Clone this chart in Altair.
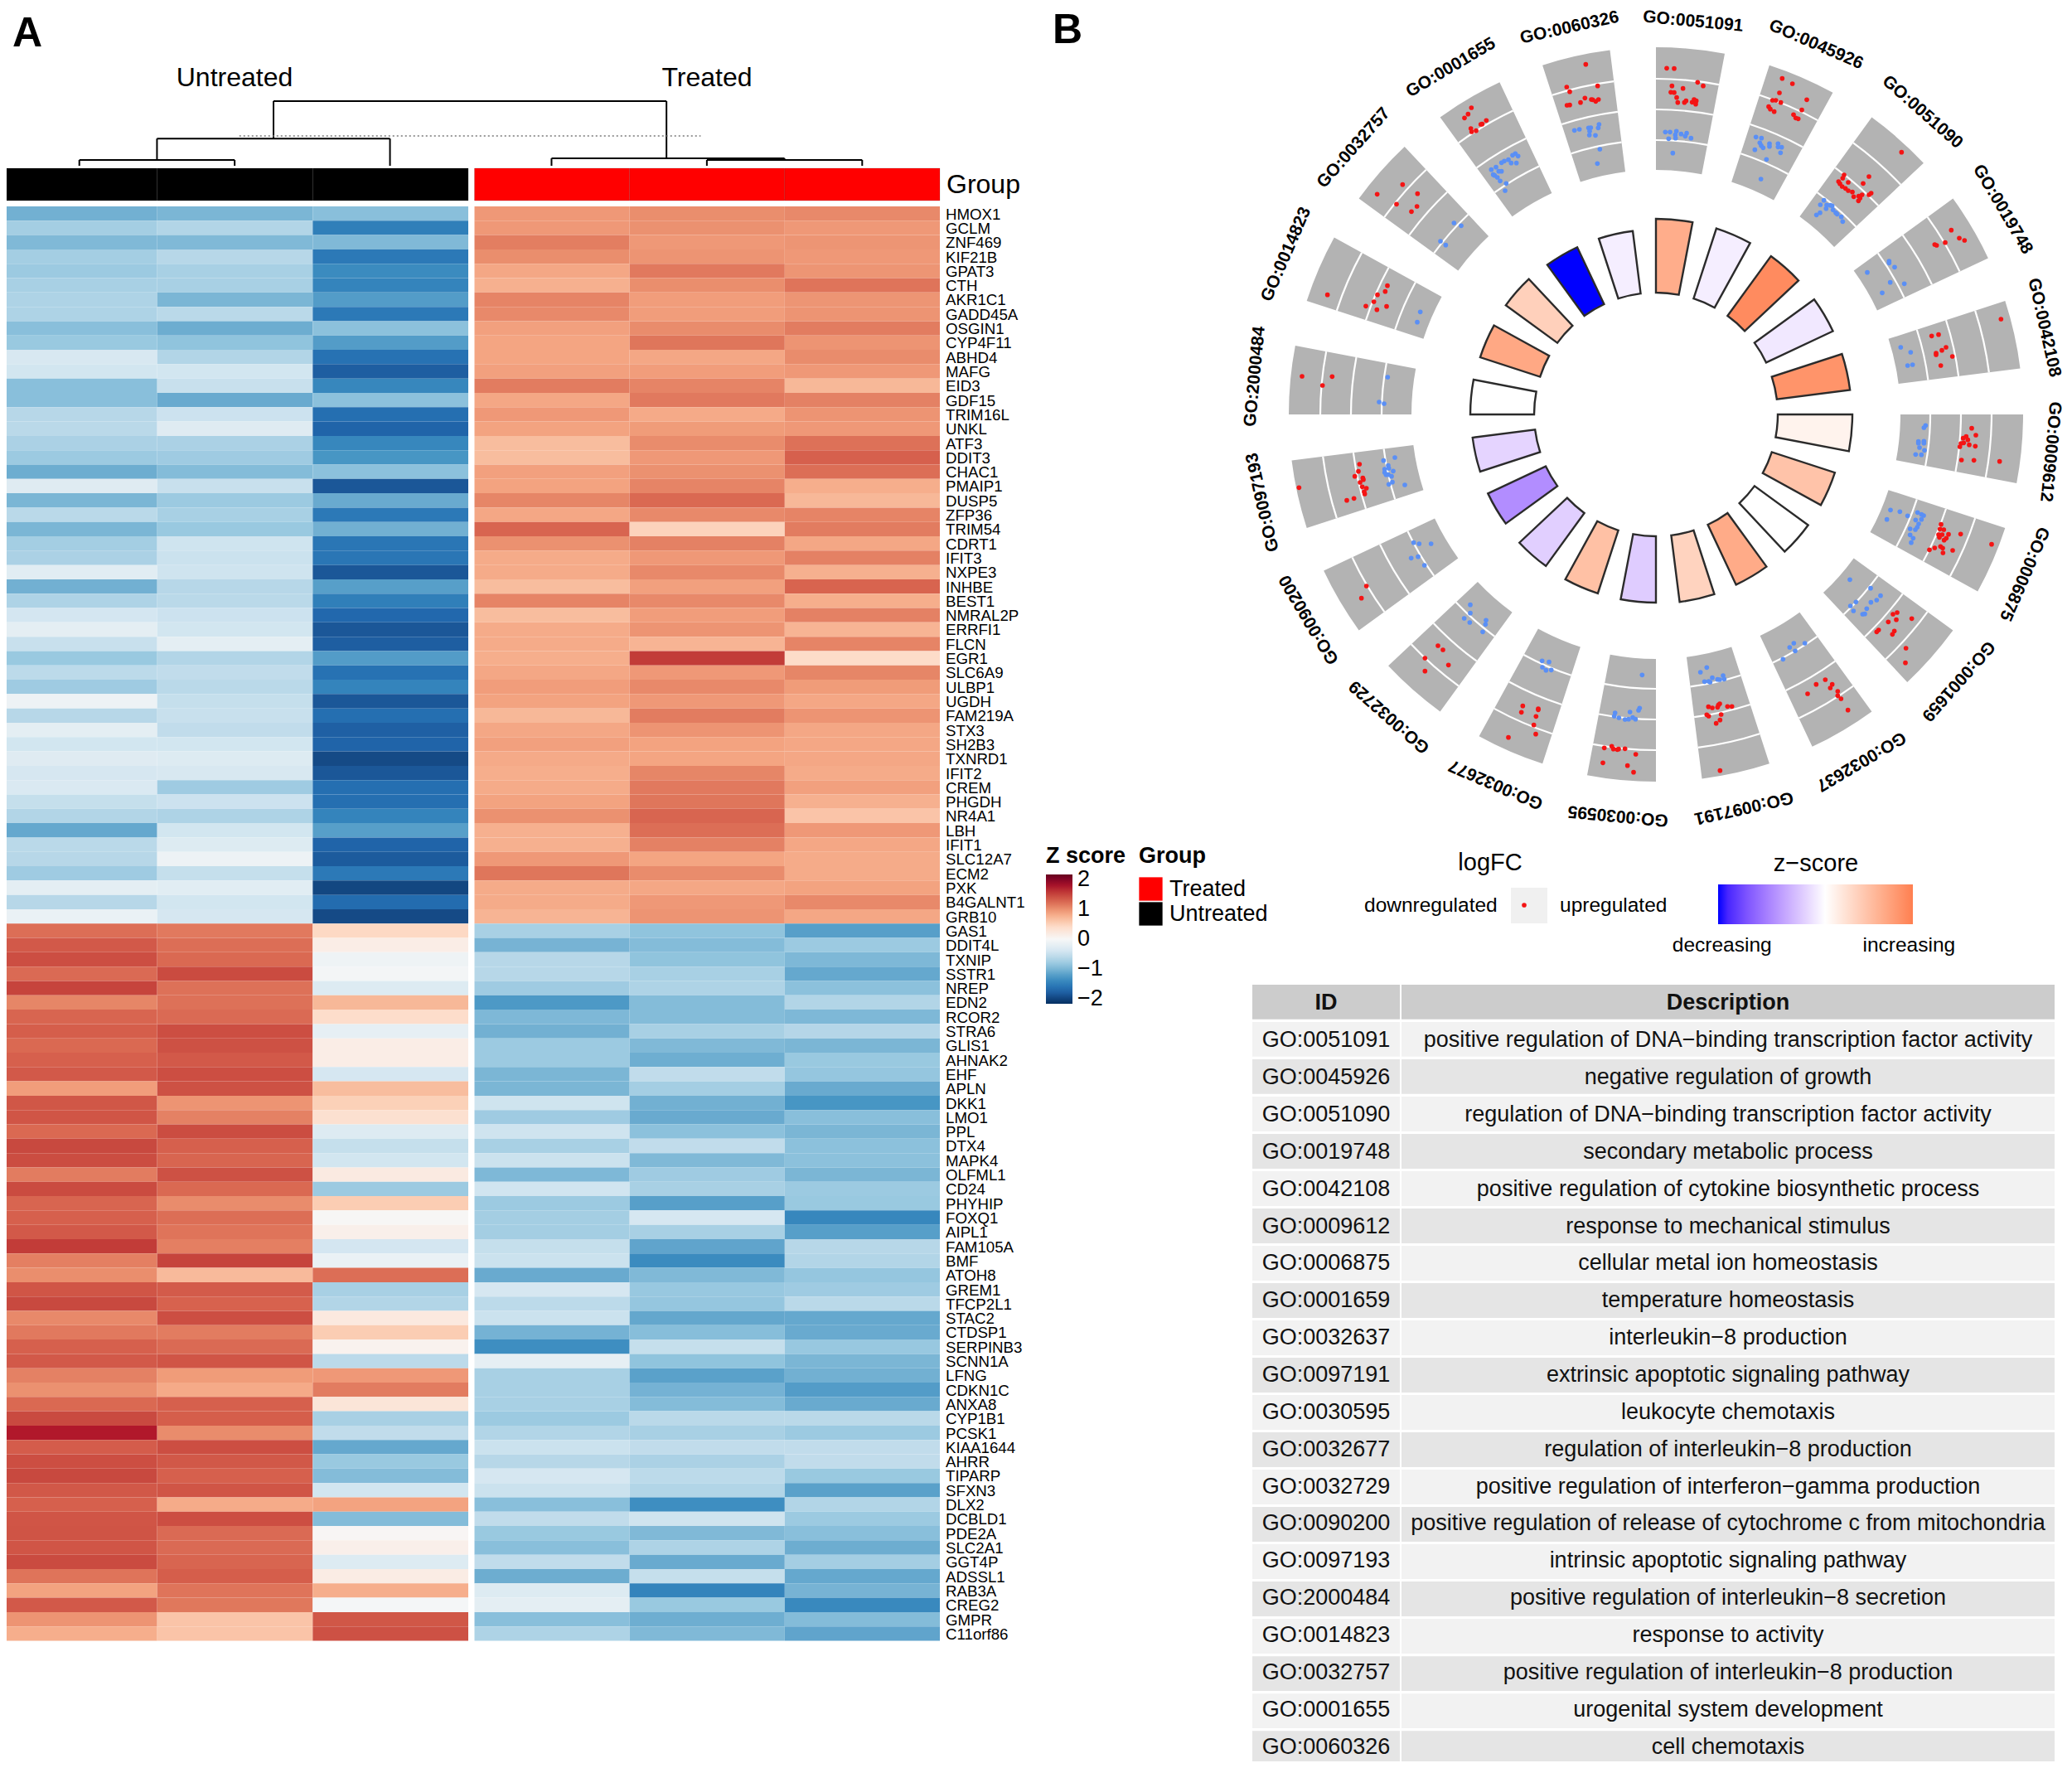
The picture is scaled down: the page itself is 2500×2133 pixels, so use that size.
import altair as alt
import pandas as pd

FONT = "Liberation Sans"

# ---------- heatmap data ----------
genes = """HMOX1 GCLM ZNF469 KIF21B GPAT3 CTH AKR1C1 GADD45A OSGIN1 CYP4F11 ABHD4 MAFG EID3 GDF15 TRIM16L UNKL ATF3 DDIT3 CHAC1 PMAIP1 DUSP5 ZFP36 TRIM54 CDRT1 IFIT3 NXPE3 INHBE BEST1 NMRAL2P ERRFI1 FLCN EGR1 SLC6A9 ULBP1 UGDH FAM219A STX3 SH2B3 TXNRD1 IFIT2 CREM PHGDH NR4A1 LBH IFIT1 SLC12A7 ECM2 PXK B4GALNT1 GRB10 GAS1 DDIT4L TXNIP SSTR1 NREP EDN2 RCOR2 STRA6 GLIS1 AHNAK2 EHF APLN DKK1 LMO1 PPL DTX4 MAPK4 OLFML1 CD24 PHYHIP FOXQ1 AIPL1 FAM105A BMF ATOH8 GREM1 TFCP2L1 STAC2 CTDSP1 SERPINB3 SCNN1A LFNG CDKN1C ANXA8 CYP1B1 PCSK1 KIAA1644 AHRR TIPARP SFXN3 DLX2 DCBLD1 PDE2A SLC2A1 GGT4P ADSSL1 RAB3A CREG2 GMPR C11orf86""".split()
samples_untreated = ["U1", "U2", "U3"]
samples_treated = ["T1", "T2", "T3"]
z_rows = [
[-1.05,-1.0,-0.92,0.95,1.02,1.05],[-0.75,-0.65,-1.5,0.95,1.0,0.95],[-0.97,-0.97,-0.97,1.12,0.95,0.97],
[-0.75,-0.62,-1.55,1.02,0.98,0.95],[-0.8,-0.72,-1.38,0.85,1.15,0.97],[-0.72,-0.72,-1.45,0.78,1.02,1.18],
[-0.68,-1.0,-1.22,1.08,0.92,0.97],[-0.68,-0.6,-1.55,1.05,0.92,0.98],[-0.92,-1.08,-0.9,0.9,1.03,1.13],
[-0.82,-0.88,-1.22,0.87,1.17,0.98],[-0.35,-0.65,-1.62,0.87,0.85,1.03],[-0.42,-0.42,-1.8,0.9,0.92,0.95],
[-0.92,-0.5,-1.42,1.13,1.08,0.72],[-0.92,-1.1,-0.9,0.85,1.15,1.1],[-0.62,-0.47,-1.65,0.95,0.83,0.98],
[-0.6,-0.28,-1.75,0.88,0.93,0.95],[-0.7,-0.7,-1.42,0.68,1.03,1.2],[-0.8,-0.78,-1.28,0.68,0.95,1.3],
[-1.08,-0.95,-0.9,0.9,1.0,1.22],[-0.28,-0.5,-1.85,0.88,1.08,0.8],[-1.0,-0.8,-1.1,1.07,1.25,0.72],
[-0.6,-0.72,-1.55,0.85,1.05,1.08],[-1.0,-0.82,-1.05,1.27,0.5,1.13],[-0.75,-0.45,-1.58,1.0,1.1,0.85],
[-0.7,-0.48,-1.58,0.82,0.95,1.1],[-0.25,-0.45,-1.85,0.82,1.05,0.78],[-1.05,-0.62,-1.2,0.68,0.9,1.28],
[-0.68,-0.6,-1.5,1.08,1.05,0.8],[-0.4,-0.47,-1.72,0.68,0.92,1.1],[-0.22,-0.42,-1.85,0.82,0.98,0.75],
[-0.5,-0.22,-1.8,0.82,0.75,1.08],[-0.82,-0.65,-1.22,0.8,1.55,0.42],[-0.58,-0.55,-1.62,0.85,0.95,1.07],
[-0.78,-0.6,-1.45,0.92,1.05,0.93],[-0.12,-0.52,-1.85,0.88,0.95,0.85],[-0.62,-0.5,-1.65,0.72,1.13,0.98],
[-0.22,-0.55,-1.78,0.85,0.98,0.85],[-0.42,-0.42,-1.75,0.9,0.88,0.85],[-0.28,-0.3,-1.95,0.83,0.87,0.85],
[-0.38,-0.35,-1.85,0.8,1.07,0.82],[-0.33,-0.78,-1.65,0.82,1.15,0.9],[-0.52,-0.47,-1.65,0.88,1.17,0.78],
[-0.65,-0.68,-1.45,1.0,1.27,0.62],[-1.12,-0.42,-1.2,0.78,1.22,0.95],[-0.6,-0.3,-1.75,0.78,1.1,0.85],
[-0.62,-0.12,-1.82,0.95,0.87,0.82],[-0.78,-0.52,-1.55,1.17,1.03,0.82],[-0.22,-0.25,-1.98,0.82,0.85,0.88],
[-0.62,-0.42,-1.68,0.82,0.95,1.05],[-0.15,-0.38,-1.95,0.75,0.98,0.85],
[1.22,1.15,0.45,-0.72,-0.88,-1.2],[1.35,1.22,0.15,-1.02,-0.95,-0.8],[1.43,1.25,-0.1,-0.62,-0.88,-0.98],
[1.24,1.45,-0.05,-0.62,-0.72,-1.12],[1.5,1.2,-0.3,-0.78,-0.68,-0.9],[1.07,1.2,0.72,-1.25,-0.95,-0.65],
[1.27,1.24,0.4,-0.98,-0.95,-0.98],[1.32,1.43,-0.2,-1.05,-0.72,-0.63],[1.25,1.41,0.15,-0.8,-0.97,-1.0],
[1.3,1.35,0.15,-0.8,-1.07,-0.82],[1.35,1.43,-0.38,-1.0,-0.55,-0.85],[0.92,1.41,0.68,-1.0,-0.75,-1.1],
[1.37,0.98,0.52,-0.45,-1.05,-1.28],[1.38,1.1,0.35,-0.78,-1.1,-0.92],[1.25,1.44,-0.3,-0.45,-0.9,-1.0],
[1.47,1.3,-0.52,-0.72,-0.55,-0.9],[1.44,1.27,-0.42,-0.48,-0.97,-0.9],[1.13,1.41,0.2,-0.98,-0.78,-1.0],
[1.45,1.25,-0.8,-0.43,-0.72,-0.8],[1.27,1.03,0.55,-0.8,-1.2,-0.82],[1.3,1.22,0.02,-0.75,-0.38,-1.42],
[1.35,1.18,0.12,-0.75,-0.72,-1.2],[1.55,1.11,-0.4,-0.52,-1.15,-0.62],[1.11,1.5,-0.15,-0.48,-1.38,-0.65],
[1.02,0.7,1.22,-1.1,-0.97,-0.85],[1.38,1.34,-0.72,-0.38,-0.83,-0.78],[1.47,1.29,-0.65,-0.58,-0.85,-0.6],
[1.05,1.43,0.22,-0.48,-1.13,-1.12],[1.15,1.13,0.55,-1.03,-0.93,-1.1],[1.3,1.24,0.08,-1.35,-0.52,-0.83],
[1.35,1.38,-0.58,-0.2,-0.88,-1.0],[1.1,0.93,0.95,-0.72,-1.18,-1.05],[1.0,0.83,1.13,-0.72,-1.03,-1.22],
[1.25,1.3,0.28,-0.72,-0.95,-1.1],[1.46,1.32,-0.72,-0.8,-0.6,-0.6],[1.74,1.03,-0.55,-0.65,-0.72,-0.8],
[1.33,1.43,-1.12,-0.48,-0.55,-0.55],[1.43,1.36,-0.82,-0.62,-0.7,-0.55],[1.47,1.3,-0.95,-0.38,-0.58,-0.82],
[1.36,1.38,-0.42,-0.48,-0.65,-1.18],[1.3,0.82,0.88,-0.92,-1.35,-0.65],[1.38,1.43,-0.95,-0.55,-0.45,-0.8],
[1.39,1.24,0.03,-0.82,-0.97,-0.92],[1.38,1.24,0.12,-0.92,-0.68,-1.08],[1.45,1.27,-0.3,-0.55,-1.1,-0.75],
[1.18,1.32,0.17,-1.08,-0.52,-1.12],[0.88,1.18,0.8,-0.3,-1.45,-1.02],[1.35,1.16,-0.03,-0.22,-0.82,-1.4],
[0.98,0.62,1.37,-0.92,-1.07,-0.95],[0.8,0.62,1.41,-0.68,-0.97,-1.15],
]
z_domain = [-2.17, -1.736, -1.302, -0.868, -0.434, 0, 0.434, 0.868, 1.302, 1.736, 2.17]
z_colors = ["#053061","#2166ac","#4393c3","#92c5de","#d1e5f0","#f7f7f7","#fddbc7","#f4a582","#d6604d","#b2182b","#67001f"]
z_ticks = [2, 1, 0, -1, -2]
groups = ["Treated", "Untreated"]
group_colors = ["#ff0000", "#000000"]

# dendrogram: column position / merge height
dend_x  = [0.5,0.5,1.5,1.0,1.0,2.5,1.75,1.75,4.28,3.54,3.54,5.04,4.54,4.54,5.54]
dend_x2 = [1.5,0.5,1.5,1.0,2.5,2.5,1.75,4.28,4.28,5.04,3.54,5.04,5.54,4.54,5.54]
dend_h  = [.09,.09,.09,.09,.42,.42,.42,1,1,.115,.115,.09,.09,.09,.09]
dend_h2 = [.09,0,0,.42,.42,0,1,1,.115,.115,0,.115,.09,0,0]
cut_h = [0.46]

# ---------- GO circle data ----------
go_ids = ["GO:0051091","GO:0045926","GO:0051090","GO:0019748","GO:0042108","GO:0009612","GO:0006875","GO:0001659","GO:0032637","GO:0097191",
          "GO:0030595","GO:0032677","GO:0032729","GO:0090200","GO:0097193","GO:2000484","GO:0014823","GO:0032757","GO:0001655","GO:0060326"]
go_desc = ["positive regulation of DNA−binding transcription factor activity","negative regulation of growth",
 "regulation of DNA−binding transcription factor activity","secondary metabolic process",
 "positive regulation of cytokine biosynthetic process","response to mechanical stimulus","cellular metal ion homeostasis",
 "temperature homeostasis","interleukin−8 production","extrinsic apoptotic signaling pathway","leukocyte chemotaxis",
 "regulation of interleukin−8 production","positive regulation of interferon−gamma production",
 "positive regulation of release of cytochrome c from mitochondria","intrinsic apoptotic signaling pathway",
 "positive regulation of interleukin−8 secretion","response to activity","positive regulation of interleukin−8 production",
 "urogenital system development","cell chemotaxis"]
go_z = [1.46,-0.19,2.05,-0.26,1.9,0.22,1.07,0,1.5,0.79,-0.59,1.12,-0.55,-1.33,-0.49,0,1.55,0.84,-2.75,-0.19]
go_height = [236,236,236,236,236,237,227,227,227,228,227,227,226,224,223,224,223,224,223,223]
logfc_rings = [331, 368, 405]

nw_up = [(1240,233),(1171,315),(1182,332),(1283,311),(1237,355),(1221,371),(1172,381),(1182,380),(1260,360),(1265,361),(1276,367),(1286,360),
 (826,390),(814,413),(801,427),(880,436),(865,449),(860,450),(824,465),(827,477),(843,473),
 (485,703),(577,668),(631,701),(555,739),(629,747),(609,766),
 (305,1067),(522,1034),(514,1055),(486,1067),(473,1092),(444,1108),(484,1121),(519,1109),
 (213,1362),(322,1363),(287,1395)]
nw_down = [(1199,472),(1217,468),(1250,463),(1258,462),(1254,475),(1253,489),(1275,490),(1288,450),(1285,463),(1291,540),(1282,592),
 (985,556),(975,562),(995,565),(960,578),(945,583),(935,589),(970,590),(989,590),(915,605),(898,614),(925,620),(935,620),(910,635),(920,642),(930,655),(952,664),(948,690),(905,632),
 (763,807),(789,817),(714,873),(733,887),
 (641,1129),(630,1166),
 (523,1365),(492,1455),(510,1461)]
ne_up = [(33,127),(60,128),(145,178),(165,191),(52,191),(92,200),(48,214),(60,215),(69,233),(73,251),(97,251),(103,245),(125,250),(132,240),(140,245),(138,257),
 (451,164),(488,183),(441,216),(540,241),(416,243),(428,243),(446,251),(402,266),(408,275),(422,284),(522,278),(492,295),(500,307),(509,310),
 (883,431),(765,519),(675,513),(670,525),(744,544),(690,540),(655,537),(660,545),(668,555),(680,562),(690,570),(705,575),(710,592),(740,585),(728,590),(733,597),(727,607),(765,585),(773,579),
 (1063,713),(1092,742),(1111,750),(1041,758),(1003,765),(1010,768),
 (1243,1035),(992,1096),(1017,1091),(1044,1137),(1029,1148),(1008,1158),(1008,1164),(1067,1170),(1025,1203)]
ne_down = [(28,358),(45,358),(68,355),(64,368),(85,365),(105,362),(100,373),(121,380),(40,382),(65,380),(55,434),
 (356,376),(376,380),(370,397),(375,407),(382,415),(405,400),(405,410),(436,400),(449,413),(436,412),(352,422),(445,433),(394,457),(374,528),
 (602,605),(589,621),(612,622),(625,623),(632,625),(610,635),(635,640),(645,650),(650,655),(588,650),(575,658),(665,665),(670,682),
 (838,825),(838,832),(858,847),(759,866),(842,902),(893,907),(813,940),
 (880,1137),(916,1155),(905,1203),(923,1200)]
se_up = [(1137,80),(1152,105),(1117,110),(1106,116),(1123,122),(1108,133),(1098,135),(1128,140),(1150,145),(1094,147),(1100,195),(1145,196),(1238,200),
 (1026,428),(1022,445),(1036,447),(1017,465),(1030,465),(1053,464),(1097,463),(1020,475),(1045,478),(1037,485),(1209,500),(1024,508),(1032,514),(984,520),(1003,513),(1068,522),(1033,531),
 (852,753),(867,747),(920,769),(864,773),(835,781),(800,810),(793,817),(857,814),(850,826),(899,876),(897,929),
 (607,990),(574,1007),(632,1007),(625,1020),(543,1041),(652,1032),(652,1048),(664,1059),(689,1100),
 (225,1077),(220,1082),(217,1090),(184,1088),(198,1092),(253,1087),(269,1087),(178,1117),(185,1122),(230,1116),(226,1136),(212,1148),(226,1319)]
se_down = [(970,70),(964,78),(944,128),(944,134),(964,127),(964,134),(948,150),(966,160),(934,175),(955,176),
 (843,376),(877,382),(905,397),(941,385),(955,392),(963,396),(955,410),(934,412),(830,410),(945,426),(940,438),(933,447),(914,444),(914,466),(925,478),(918,494),
 (696,628),(771,659),(807,686),(793,702),(772,710),(718,709),(698,723),(757,733),(709,741),(742,753),(750,752),
 (493,858),(533,858),(478,873),(498,886),(454,916),
 (178,946),(155,963),(198,983),(237,975),(217,989),(225,990),(241,988),(170,997),(185,996),(190,999)]
sw_up = [(1187,1237),(1214,1231),(1220,1241),(1234,1243),(1239,1241),(1262,1240),(1301,1260),(1182,1291),(1271,1301),(1293,1325),
 (892,1085),(948,1095),(948,1099),(887,1108),(940,1123),(932,1154),(939,1187),(840,1199),
 (585,867),(603,882),(538,912),(623,937),(538,959),
 (326,651),(308,695),
 (301,210),(297,236),(284,254),(313,260),(315,266),(303,276),(311,292),(326,297),(318,310),(320,318),(281,334),(255,341),(82,295)]
sw_down = [(1324,973),(1315,1093),(1311,1101),(1280,1107),(1226,1110),(1223,1122),(1240,1128),(1262,1134),(1275,1133),(1290,1127),(1300,1133),
 (962,922),(987,926),(963,945),(976,956),(995,955),
 (702,719),(702,749),(680,768),(700,783),(759,775),(757,790),(747,817),
 (497,494),(517,498),(560,498),(488,550),(513,545),(536,576),
 (429,186),(388,197),(405,215),(392,228),(407,225),(423,235),(392,240),(397,248),(405,248),(417,254),(420,275),(407,283),(465,285)]

# ---------- layout (page pixels) ----------
def P(v):
    return v - 8
CX, CY, R_OUT = 1998, 500, 443
SEG_STEP, SEG_SWEEP = 18, 10.8
LAB_R = {"GO:0051091": 476, "GO:0060326": 478, "GO:0009612": 478, "GO:0042108": 480, "GO:0006875": 484}

def label(text, x, y, size, weight="normal", align="left", color="#000000", angle=0):
    return alt.Chart(pd.DataFrame({"t": [text]})).mark_text(
        font=FONT, fontSize=size, fontWeight=weight, align=align, baseline="middle", color=color, angle=angle
    ).encode(text="t:N", x=alt.value(P(x)), y=alt.value(P(y)))

layers = []

# ---------- heatmap ----------
hm = pd.DataFrame([{"gene": g, "sample": s, "z": z_rows[i][j]}
                   for i, g in enumerate(genes) for j, s in enumerate(samples_untreated + samples_treated)])
y_genes = alt.Y("gene:N", sort=genes, axis=None,
                scale=alt.Scale(domain=genes, range=[P(249), P(1979.5)], paddingInner=0, paddingOuter=0))
z_scale = alt.Scale(type="linear", domain=z_domain, range=z_colors)

def heat(samples, x0, x1, legend):
    return alt.Chart(hm[hm["sample"].isin(samples)]).mark_rect().encode(
        x=alt.X("sample:N", axis=None, sort=samples,
                scale=alt.Scale(domain=samples, range=[P(x0), P(x1)], paddingInner=0, paddingOuter=0)),
        y=y_genes,
        color=alt.Color("z:Q", scale=z_scale, legend=legend),
    )

z_legend = alt.Legend(type="gradient", orient="none", legendX=P(1262), legendY=P(1020), title="Z score", titleFont=FONT, titleFontSize=27,
                      titleFontWeight="bold", titleColor="#000000", titlePadding=8, gradientLength=156, gradientThickness=32,
                      gradientStrokeWidth=0, values=z_ticks, labelFont=FONT, labelFontSize=27, labelColor="#000000",
                      labelOffset=6, labelOverlap=False, direction="vertical")
layers += [heat(samples_untreated, 2, 565, None), heat(samples_treated, 572.5, 1134, z_legend)]

# gene labels
layers.append(alt.Chart(pd.DataFrame({"gene": genes})).mark_text(
    font=FONT, fontSize=18.7, align="left", baseline="middle", color="#000000", dy=1
).encode(text="gene:N", x=alt.value(P(1141)), y=y_genes))

# group bar
grp = pd.DataFrame({"sample": samples_untreated + samples_treated,
                    "group": ["Untreated"] * 3 + ["Treated"] * 3})
def group_bar(samples, x0, x1, legend):
    return alt.Chart(grp[grp["sample"].isin(samples)]).mark_rect(stroke="#222222", strokeOpacity=0.25, strokeWidth=0.6).encode(
        x=alt.X("sample:N", axis=None, sort=samples,
                scale=alt.Scale(domain=samples, range=[P(x0), P(x1)], paddingInner=0, paddingOuter=0)),
        y=alt.Y("group_row:N", axis=None, scale=alt.Scale(domain=["Group"], range=[P(203), P(242)], paddingInner=0, paddingOuter=0)),
        color=alt.Color("group:N", scale=alt.Scale(domain=groups, range=group_colors), legend=legend),
    ).transform_calculate(group_row="'Group'")
grp_legend = alt.Legend(orient="none", legendX=P(1374), legendY=P(1020), title="Group", titleFont=FONT, titleFontSize=27,
                        titleFontWeight="bold", titleColor="#000000", titlePadding=11, symbolType="square", symbolSize=800,
                        symbolStrokeWidth=0, labelFont=FONT, labelFontSize=27, labelColor="#000000", labelOffset=8, rowPadding=1)
layers += [group_bar(samples_untreated, 2, 565, None), group_bar(samples_treated, 572.5, 1134, grp_legend)]
layers.append(label("Group", 1142, 223, 32))
layers.append(label("Untreated", 283, 93.5, 32, align="center"))
layers.append(label("Treated", 853, 93.5, 32, align="center"))
layers.append(label("A", 15, 40.5, 50, "bold"))
layers.append(label("B", 1270, 37, 50, "bold"))

# dendrogram
dend = pd.DataFrame({"x": dend_x, "x2": dend_x2, "h": dend_h, "h2": dend_h2})
dx_scale = alt.Scale(domain=[0, 6.04], range=[P(2), P(1134)])
dy_scale = alt.Scale(domain=[0, 1], range=[P(200), P(122)])
layers.append(alt.Chart(dend).mark_rule(color="#000000", strokeWidth=2).encode(
    x=alt.X("x:Q", axis=None, scale=dx_scale), x2="x2:Q",
    y=alt.Y("h:Q", axis=None, scale=dy_scale), y2="h2:Q"))
layers.append(alt.Chart(pd.DataFrame({"h": cut_h, "a": [1.53], "b": [4.5]})).mark_rule(
    color="#777777", strokeWidth=1.5, strokeDash=[2, 3]).encode(
    x=alt.X("a:Q", axis=None, scale=dx_scale), x2="b:Q",
    y=alt.Y("h:Q", axis=None, scale=dy_scale)))

# ---------- GO circle ----------
th_scale = alt.Scale(domain=[0, 360], range=[0, 6.283185])
r_scale = alt.Scale(type="linear", domain=[0, R_OUT], range=[0, R_OUT])
cx, cy = alt.value(P(CX)), alt.value(P(CY))
seg = pd.DataFrame({"id": go_ids, "z": go_z, "h": go_height})
seg["a"] = [i * SEG_STEP for i in range(len(go_ids))]
seg["b"] = seg["a"] + SEG_SWEEP
seg["mid"] = seg["a"] + SEG_SWEEP / 2
seg["r0"] = 295
seg["r1"] = R_OUT
seg["in0"] = 147

layers.append(alt.Chart(seg).mark_arc(color="#b3b3b3").encode(
    theta=alt.Theta("a:Q", scale=th_scale), theta2="b:Q",
    radius=alt.Radius("r1:Q", scale=r_scale), radius2="r0:Q", x=cx, y=cy))

rings = pd.DataFrame([{"a": a, "b": a + SEG_SWEEP, "r": r - 1.1, "r2": r + 1.1} for a in seg["a"] for r in logfc_rings])
layers.append(alt.Chart(rings).mark_arc(color="#ffffff").encode(
    theta=alt.Theta("a:Q", scale=th_scale), theta2="b:Q",
    radius=alt.Radius("r2:Q", scale=r_scale), radius2="r:Q", x=cx, y=cy))

zsc_legend = alt.Legend(orient="none", direction="horizontal", legendX=P(2073), legendY=P(1028), title="z−score",
                        titleFont=FONT, titleFontSize=29, titleFontWeight="normal", titleColor="#000000", titleAnchor="middle",
                        titlePadding=10, gradientLength=235, gradientThickness=48, gradientStrokeWidth=0,
                        values=[-2.65, 2.15], labelExpr="datum.value < 0 ? 'decreasing' : 'increasing'",
                        labelFont=FONT, labelFontSize=24.5, labelColor="#000000", labelAlign="center", labelOffset=14, labelOverlap=False)
layers.append(alt.Chart(seg).mark_arc(stroke="#2b2b2b", strokeWidth=2.4).encode(
    theta=alt.Theta("a:Q", scale=th_scale), theta2="b:Q",
    radius=alt.Radius("h:Q", scale=r_scale), radius2="in0:Q", x=cx, y=cy,
    color=alt.Color("z:Q", legend=zsc_legend,
                    scale=alt.Scale(domain=[-2.75, 0, 2.25], range=["#0000ff", "#ffffff", "#ff7f50"], interpolate="lab"))))

def plane(points, x0, y0, direction):
    return [{"px": cx_ / 3 + x0 - CX, "py": CY - (cy_ / 3 + y0), "dir": direction} for cx_, cy_ in points]
dots = pd.DataFrame(
    plane(nw_down, 1500, 0, "down") + plane(ne_down, 2000, 40, "down") + plane(se_down, 2000, 490, "down") + plane(sw_down, 1540, 490, "down")
    + plane(nw_up, 1500, 0, "up") + plane(ne_up, 2000, 40, "up") + plane(se_up, 2000, 490, "up") + plane(sw_up, 1540, 490, "up"))
layers.append(alt.Chart(dots).mark_circle(size=32, opacity=1).encode(
    x=alt.X("px:Q", axis=None, scale=alt.Scale(domain=[-R_OUT, R_OUT], range=[P(CX - R_OUT), P(CX + R_OUT)])),
    y=alt.Y("py:Q", axis=None, scale=alt.Scale(domain=[-R_OUT, R_OUT], range=[P(CY + R_OUT), P(CY - R_OUT)])),
    color=alt.Color("dir:N", legend=None, scale=alt.Scale(domain=["down", "up"], range=["#5a8ff5", "#f41414"]))))

seg["r_lab"] = [LAB_R.get(i, 486) for i in go_ids]
layers.append(alt.Chart(seg).mark_text(font=FONT, fontSize=21, fontWeight="bold", color="#000000", baseline="middle", align="center").encode(
    text="id:N", theta=alt.Theta("mid:Q", scale=th_scale), radius=alt.Radius("r_lab:Q", scale=r_scale), x=cx, y=cy,
    angle=alt.Angle("mid:Q", scale=alt.Scale(domain=[0, 360], range=[0, 360]))))

# logFC legend
layers.append(label("logFC", 1798, 1041, 29, align="center"))
layers.append(label("downregulated", 1646, 1093, 24.5))
layers.append(label("upregulated", 1882, 1093, 24.5))
layers.append(alt.Chart(pd.DataFrame({"k": ["up"]})).mark_rect(color="#f0f0f0").encode(
    x=alt.value(P(1823)), x2=alt.value(P(1867)), y=alt.value(P(1071)), y2=alt.value(P(1114))))
layers.append(alt.Chart(pd.DataFrame({"k": ["up"]})).mark_circle(size=32, opacity=1, color="#f41414").encode(
    x=alt.value(P(1839)), y=alt.value(P(1092))))

# colourbar ticks
ztick_scale = alt.Scale(domain=[-2.17, 2.17], range=[P(1211), P(1055)])
tick_df = pd.DataFrame({"z": z_ticks})
for a, b in [(1262, 1269), (1287, 1294)]:
    layers.append(alt.Chart(tick_df).mark_rule(color="#ffffff", strokeWidth=1.5).encode(
        y=alt.Y("z:Q", axis=None, scale=ztick_scale), x=alt.value(P(a)), x2=alt.value(P(b))))
for x_ in (2078, 2303):
    for a, b in [(1068, 1077), (1107, 1116)]:
        layers.append(alt.Chart(pd.DataFrame({"k": ["t"]})).mark_rule(color="#ffffff", strokeWidth=1.5).encode(
            x=alt.value(P(x_)), y=alt.value(P(a)), y2=alt.value(P(b))))

# ---------- table ----------
rows = ["header"] + go_ids
tbl = pd.DataFrame({"row": rows,
                    "ID": ["ID"] + go_ids,
                    "Description": ["Description"] + go_desc,
                    "kind": ["head"] + ["odd" if i % 2 == 0 else "even" for i in range(len(go_ids))],
                    "weight": ["bold"] + ["normal"] * len(go_ids)})
y_rows = alt.Y("row:N", axis=None, sort=rows,
               scale=alt.Scale(domain=rows, range=[P(1188), P(2130)], paddingInner=0.07, paddingOuter=0))
for col, x0, x1 in [("ID", 1511, 1689), ("Description", 1691, 2479)]:
    xs = alt.X("c:N", axis=None, scale=alt.Scale(domain=[col], range=[P(x0), P(x1)], paddingInner=0, paddingOuter=0))
    layers.append(alt.Chart(tbl).transform_calculate(c=f"'{col}'").mark_rect().encode(
        x=xs, y=y_rows,
        color=alt.Color("kind:N", legend=None, scale=alt.Scale(domain=["head", "odd", "even"], range=["#cccccc", "#f2f2f2", "#e5e5e5"]))))
    mid = alt.value(P((x0 + x1) / 2))
    for w, sel in [("bold", tbl["weight"] == "bold"), ("normal", tbl["weight"] == "normal")]:
        layers.append(alt.Chart(tbl[sel]).mark_text(font=FONT, fontSize=27, fontWeight=w, color="#111111", align="center", baseline="middle").encode(
            text=f"{col}:N", x=mid, y=y_rows))

chart = alt.layer(*layers).resolve_scale(x="independent", y="independent", color="independent").properties(
    width=2484, height=2117, padding=0, autosize=alt.AutoSizeParams(type="none"), background="#ffffff"
).configure_view(stroke=None)

chart.save("out.html", embed_options={"renderer": "svg", "actions": False})
